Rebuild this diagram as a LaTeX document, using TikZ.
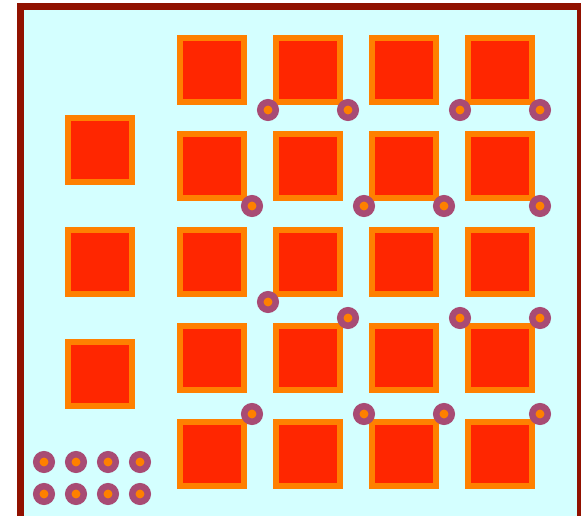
\documentclass[tikz,border=0pt]{standalone}
\usetikzlibrary{positioning}

\definecolor{boardbg}{RGB}{212,255,255}
\definecolor{boardedge}{RGB}{145,17,0}
\definecolor{padring}{RGB}{255,128,0}
\definecolor{padcore}{RGB}{255,38,0}
\definecolor{viaring}{RGB}{168,75,116}

\begin{document}
\begin{tikzpicture}[
  x=0.02cm, y=-0.02cm,
  pad/.style={rectangle, draw=padring, fill=padcore, line width=0.12cm, minimum size=1.28cm, inner sep=0pt, anchor=center},
  via/.style={circle, draw=viaring, fill=padring, line width=0.13cm, minimum size=0.31cm, inner sep=0pt, anchor=center}
]
\clip (0,0) rectangle (581,516);
% Board outline
\draw[draw=boardedge, fill=boardbg, line width=0.14cm] (20.5,6.5) rectangle (580.5,519.5);
% Left column of pads
\node[pad] (pl1) at (100, 150) {};
\node[pad] (pl2) at (100, 262) {};
\node[pad] (pl3) at (100, 374) {};
% Pad grid, row 1
\node[pad] (p11) at (212, 70) {};
\node[pad] (p12) at (308, 70) {};
\node[pad] (p13) at (404, 70) {};
\node[pad] (p14) at (500, 70) {};
% Row 2
\node[pad] (p21) at (212, 166) {};
\node[pad] (p22) at (308, 166) {};
\node[pad] (p23) at (404, 166) {};
\node[pad] (p24) at (500, 166) {};
% Row 3
\node[pad] (p31) at (212, 262) {};
\node[pad] (p32) at (308, 262) {};
\node[pad] (p33) at (404, 262) {};
\node[pad] (p34) at (500, 262) {};
% Row 4
\node[pad] (p41) at (212, 358) {};
\node[pad] (p42) at (308, 358) {};
\node[pad] (p43) at (404, 358) {};
\node[pad] (p44) at (500, 358) {};
% Row 5
\node[pad] (p51) at (212, 454) {};
\node[pad] (p52) at (308, 454) {};
\node[pad] (p53) at (404, 454) {};
\node[pad] (p54) at (500, 454) {};
% Vias between rows 1 and 2
\node[via] (v1) at (268, 110) {};
\node[via] (v2) at (348, 110) {};
\node[via] (v3) at (460, 110) {};
\node[via] (v4) at (540, 110) {};
% Vias between rows 2 and 3
\node[via] (v5) at (252, 206) {};
\node[via] (v6) at (364, 206) {};
\node[via] (v7) at (444, 206) {};
\node[via] (v8) at (540, 206) {};
% Vias between rows 3 and 4
\node[via] (v9)  at (268, 302) {};
\node[via] (v10) at (348, 318) {};
\node[via] (v11) at (460, 318) {};
\node[via] (v12) at (540, 318) {};
% Vias between rows 4 and 5
\node[via] (v13) at (252, 414) {};
\node[via] (v14) at (364, 414) {};
\node[via] (v15) at (444, 414) {};
\node[via] (v16) at (540, 414) {};
% Spare vias, bottom left
\node[via] (s1) at (44, 462) {};
\node[via] (s2) at (76, 462) {};
\node[via] (s3) at (108, 462) {};
\node[via] (s4) at (140, 462) {};
\node[via] (s5) at (44, 494) {};
\node[via] (s6) at (76, 494) {};
\node[via] (s7) at (108, 494) {};
\node[via] (s8) at (140, 494) {};
\end{tikzpicture}
\end{document}
